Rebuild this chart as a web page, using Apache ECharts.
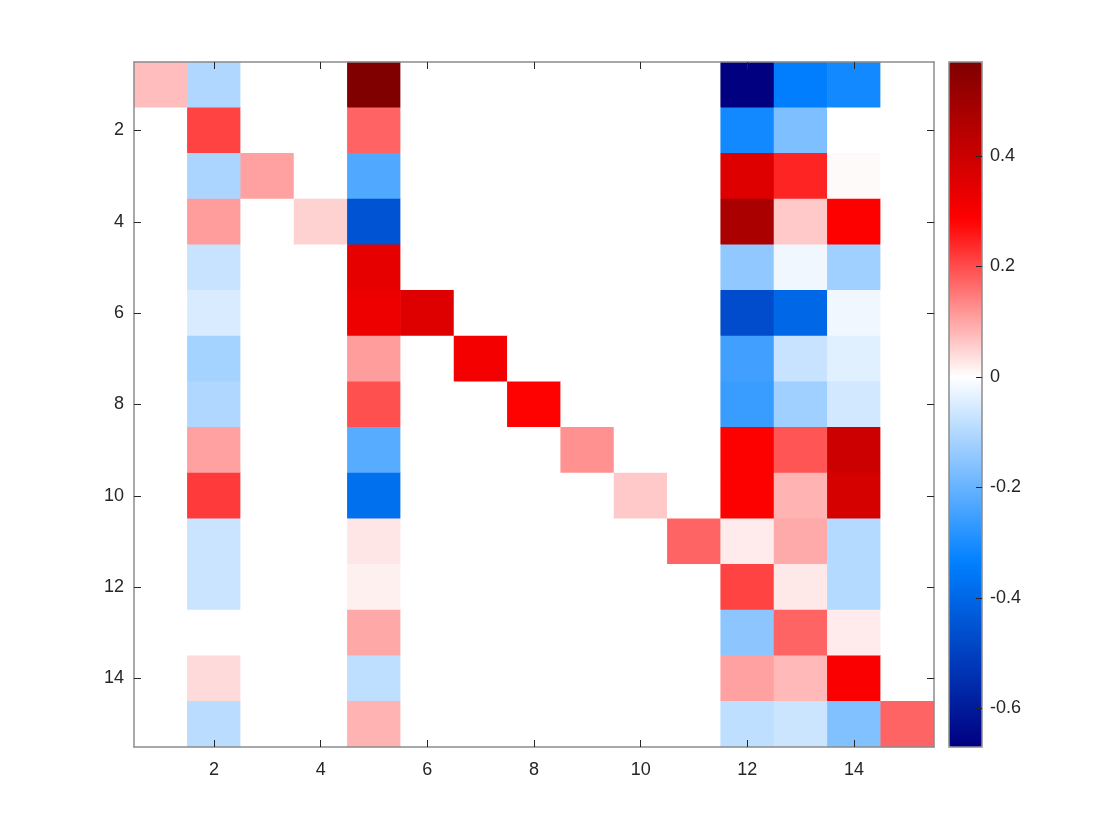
<!DOCTYPE html>
<html>
<head>
<meta charset="utf-8">
<script src="https://cdn.jsdelivr.net/npm/echarts@6/dist/echarts.min.js"></script>
<style>
  html, body { margin: 0; padding: 0; background: #fff; }
  #main { width: 1120px; height: 840px; }
</style>
</head>
<body>
<div id="main"></div>
<script>
// categories (1..15 on both axes)
var xCategories = ['1','2','3','4','5','6','7','8','9','10','11','12','13','14','15'];
var yCategories = ['1','2','3','4','5','6','7','8','9','10','11','12','13','14','15'];

// matrix values, one array per row (row 1 = top)
var row1  = [0.073, -0.105, 0, 0, 0.57, 0, 0, 0, 0, 0, 0, -0.67, -0.34, -0.31, 0];
var row2  = [0, 0.21, 0, 0, 0.175, 0, 0, 0, 0, 0, 0, -0.31, -0.17, 0, 0];
var row3  = [0, -0.11, 0.106, 0, -0.23, 0, 0, 0, 0, 0, 0, 0.36, 0.245, 0.006, 0];
var row4  = [0, 0.11, 0, 0.05, -0.45, 0, 0, 0, 0, 0, 0, 0.475, 0.06, 0.29, 0];
var row5  = [0, -0.072, 0, 0, 0.34, 0, 0, 0, 0, 0, 0, -0.145, -0.02, -0.125, 0];
var row6  = [0, -0.05, 0, 0, 0.32, 0.36, 0, 0, 0, 0, 0, -0.47, -0.40, -0.02, 0];
var row7  = [0, -0.118, 0, 0, 0.11, 0, 0.31, 0, 0, 0, 0, -0.25, -0.072, -0.04, 0];
var row8  = [0, -0.105, 0, 0, 0.196, 0, 0, 0.285, 0, 0, 0, -0.26, -0.125, -0.06, 0];
var row9  = [0, 0.106, 0, 0, -0.22, 0, 0, 0, 0.123, 0, 0, 0.29, 0.19, 0.40, 0];
var row10 = [0, 0.22, 0, 0, -0.377, 0, 0, 0, 0, 0.06, 0, 0.29, 0.084, 0.38, 0];
var row11 = [0, -0.07, 0, 0, 0.028, 0, 0, 0, 0, 0, 0.173, 0.022, 0.095, -0.098, 0];
var row12 = [0, -0.07, 0, 0, 0.017, 0, 0, 0, 0, 0, 0, 0.21, 0.026, -0.098, 0];
var row13 = [0, 0, 0, 0, 0.097, 0, 0, 0, 0, 0, 0, -0.15, 0.173, 0.022, 0];
var row14 = [0, 0.041, 0, 0, -0.085, 0, 0, 0, 0, 0, 0, 0.106, 0.078, 0.295, 0];
var row15 = [0, -0.092, 0, 0, 0.084, 0, 0, 0, 0, 0, 0, -0.085, -0.067, -0.164, 0.173];
var rows = [row1, row2, row3, row4, row5, row6, row7, row8, row9, row10, row11, row12, row13, row14, row15];

// colour limits and colorbar tick labels
var cMin = -0.67, cMax = 0.57;
var colorbarTicks = [-0.6, -0.4, -0.2, 0, 0.2, 0.4];

// diverging map: navy - blue - white (at 0) - red - dark red
function mapColor(v) {
  var r, g, b, t;
  if (v >= 0) {
    t = v / cMax;
    if (t < 0.5) { r = 255; g = b = 255 * (1 - 2 * t); }
    else { r = 255 - 127 * (2 * t - 1); g = b = 0; }
  } else {
    t = v / cMin;
    if (t < 0.5) { r = 255 * (1 - 2 * t); g = 255 - 127 * 2 * t; b = 255; }
    else { r = 0; g = 128 * (2 - 2 * t); b = 255 - 127 * (2 * t - 1); }
  }
  return 'rgb(' + Math.round(r) + ',' + Math.round(g) + ',' + Math.round(b) + ')';
}
var stops = [];
for (var i = 0; i <= 124; i++) stops.push(mapColor(cMin + (cMax - cMin) * i / 124));

var heatData = [];
rows.forEach(function (row, y) {
  row.forEach(function (v, x) { heatData.push([x, y, v]); });
});

var myChart = echarts.init(document.getElementById('main'));
var axisGray = '#8c8c8c';
var tickColor = '#262626';
var textColor = '#262626';
var font = 'Liberation Sans, Arial, sans-serif';
var evenOnly = function (idx) { return (idx + 1) % 2 === 0; };

function catAxis(type, pos, data, showLabel, margin) {
  var ax = {
    type: 'category', gridIndex: 0, data: data, position: pos, z: 10,
    axisLine: { show: true, lineStyle: { color: axisGray, width: 1.5 } },
    axisTick: { show: true, inside: true, alignWithLabel: true, interval: evenOnly, length: 7, lineStyle: { color: tickColor, width: 1 } },
    axisLabel: { show: showLabel, interval: evenOnly, color: textColor, fontSize: 18, fontFamily: font, margin: margin },
    splitLine: { show: false }
  };
  if (type === 'y') ax.inverse = true;
  return ax;
}

var option = {
  backgroundColor: '#fff',
  animation: false,
  grid: [
    { left: 134, right: 186, top: 62, bottom: 93 },
    { left: 949, width: 33, top: 62, bottom: 93, show: true, borderColor: axisGray, borderWidth: 1.5, backgroundColor: 'transparent', z: 10 }
  ],
  xAxis: [
    catAxis('x', 'bottom', xCategories, true, 14),
    catAxis('x', 'top', xCategories, false, 8),
    { type: 'value', gridIndex: 1, show: false, min: 1, max: 2, axisLine: { onZero: false } }
  ],
  yAxis: [
    catAxis('y', 'left', yCategories, true, 10),
    catAxis('y', 'right', yCategories, false, 8),
    { type: 'value', gridIndex: 1, position: 'right', min: cMin, max: cMax, z: 12,
      axisLine: { show: false, onZero: false },
      axisTick: { show: true, inside: true, length: 6, customValues: colorbarTicks, lineStyle: { color: tickColor } },
      axisLabel: { customValues: colorbarTicks, color: textColor, fontSize: 18, fontFamily: font, margin: 8,
        formatter: function (v) { return String(Math.round(v * 10) / 10); } },
      splitLine: { show: false } }
  ],
  visualMap: {
    type: 'continuous',
    min: cMin, max: cMax,
    calculable: false, realtime: false,
    seriesIndex: 0,
    left: 949, top: 62, padding: 0,
    itemWidth: 33, itemHeight: 685,
    text: null, showLabel: false,
    hoverLink: false,
    inRange: { color: stops }
  },
  series: [
    { type: 'heatmap', xAxisIndex: 0, yAxisIndex: 0, data: heatData,
      itemStyle: { borderWidth: 0 }, emphasis: { disabled: true } }
  ]
};

myChart.setOption(option);
</script>
</body>
</html>
